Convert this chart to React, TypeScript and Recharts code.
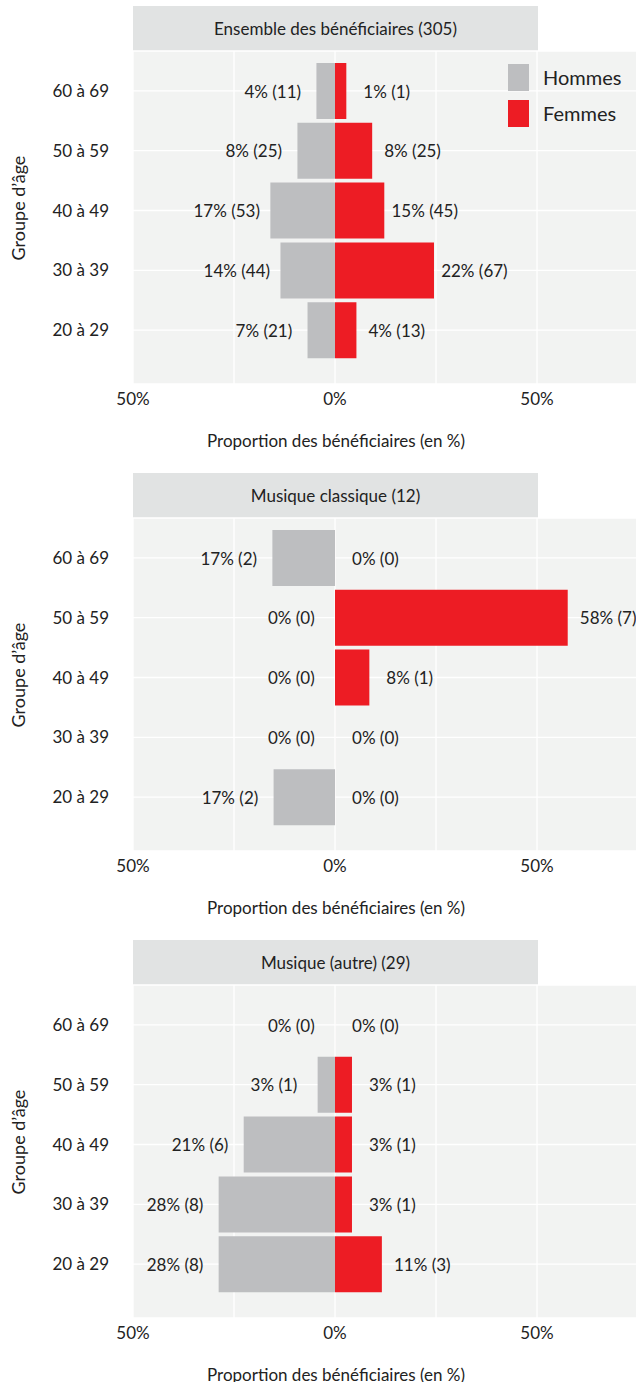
import { BarChart, Bar, XAxis, YAxis, CartesianGrid, LabelList } from 'recharts';

const ageGroups = ['60 à 69', '50 à 59', '40 à 49', '30 à 39', '20 à 29'];

// Panel 1 : ensemble
const ensembleHommes = [4.6, 9.3, 16.0, 13.5, 6.8];
const ensembleFemmes = [2.8, 9.2, 12.2, 24.5, 5.3];
const ensembleHommesPct = [4, 8, 17, 14, 7];
const ensembleHommesN = [11, 25, 53, 44, 21];
const ensembleFemmesPct = [1, 8, 15, 22, 4];
const ensembleFemmesN = [1, 25, 45, 67, 13];

// Panel 2 : musique classique
const classiqueHommes = [15.5, 0, 0, 0, 15.2];
const classiqueFemmes = [0, 57.6, 8.5, 0, 0];
const classiqueHommesPct = [17, 0, 0, 0, 17];
const classiqueHommesN = [2, 0, 0, 0, 2];
const classiqueFemmesPct = [0, 58, 8, 0, 0];
const classiqueFemmesN = [0, 7, 1, 0, 0];

// Panel 3 : musique (autre)
const autreHommes = [0, 4.3, 22.6, 28.8, 28.8];
const autreFemmes = [0, 4.2, 4.2, 4.2, 11.6];
const autreHommesPct = [0, 3, 21, 28, 28];
const autreHommesN = [0, 1, 6, 8, 8];
const autreFemmesPct = [0, 3, 3, 3, 11];
const autreFemmesN = [0, 1, 1, 1, 3];

const xTicks = [-50, 0, 50];
const gridValues = [-50, -25, 0, 25, 50, 75];

const FONT = 'Lato, "Noto Sans", sans-serif';
const TEXT = '#222222';
const GREY = '#bdbec0';
const RED = '#ed1c24';

const W = 636;
const H = 467;
const PLOT_LEFT = 133;
const X_MIN = -50;
const X_MAX = 74.5;
const PX_PER_PCT = (W - PLOT_LEFT) / (X_MAX - X_MIN);

function buildRows(h: number[], f: number[], hp: number[], hn: number[], fp: number[], fn: number[]) {
  return ageGroups.map((age, i) => ({
    age,
    hommes: -h[i],
    femmes: f[i],
    hLabel: `${hp[i]}% (${hn[i]})`,
    fLabel: `${fp[i]}% (${fn[i]})`,
  }));
}

const panels = [
  {
    title: 'Ensemble des bénéficiaires (305)',
    rows: buildRows(ensembleHommes, ensembleFemmes, ensembleHommesPct, ensembleHommesN, ensembleFemmesPct, ensembleFemmesN),
    legend: true,
  },
  {
    title: 'Musique classique (12)',
    rows: buildRows(classiqueHommes, classiqueFemmes, classiqueHommesPct, classiqueHommesN, classiqueFemmesPct, classiqueFemmesN),
    legend: false,
  },
  {
    title: 'Musique (autre) (29)',
    rows: buildRows(autreHommes, autreFemmes, autreHommesPct, autreHommesN, autreFemmesPct, autreFemmesN),
    legend: false,
  },
];

function makeLabel(side: 'left' | 'right') {
  return (props: any) => {
    const vb = props.viewBox && props.viewBox.x != null ? props.viewBox : props;
    const x = Number(vb.x);
    const w = Number(vb.width) || 0;
    const y = Number(vb.y);
    const h = Number(vb.height) || 0;
    const edge = side === 'left' ? Math.min(x, x + w) : Math.max(x, x + w);
    const cx = side === 'left' ? edge - 10.8 * PX_PER_PCT : edge + 10 * PX_PER_PCT;
    return (
      <text x={cx} y={y + h / 2} textAnchor="middle" dominantBaseline="central"
        fontFamily={FONT} fontSize={17} fill={TEXT}>
        {props.value}
      </text>
    );
  };
}

function Panel({ title, rows, legend }: { title: string; rows: any[]; legend: boolean }) {
  return (
    <div style={{ position: 'relative', width: W, height: H }}>
      <div style={{
        position: 'absolute', left: PLOT_LEFT, top: 6, width: 405, height: 45,
        background: '#e1e3e3', textAlign: 'center', lineHeight: '45px',
        fontFamily: FONT, fontSize: 17, color: TEXT,
      }}>{title}</div>
      <BarChart width={W} height={H} data={rows} layout="vertical" stackOffset="sign"
        barCategoryGap={2} margin={{ top: 51, right: 0, bottom: 53, left: 0 }}>
        <CartesianGrid stroke="#ffffff" strokeWidth={1.3} fill="#f2f3f2" fillOpacity={1}
          verticalValues={gridValues} />
        <XAxis type="number" domain={[X_MIN, X_MAX]} ticks={xTicks} allowDataOverflow
          tickFormatter={(v: number) => `${Math.abs(v)}%`} axisLine={false} tickLine={false}
          height={30} tickMargin={3} tick={{ fontFamily: FONT, fontSize: 17, fill: TEXT }} />
        <YAxis type="category" dataKey="age" width={PLOT_LEFT} axisLine={false} tickLine={false}
          interval={0} tickMargin={18} padding={{ top: 10, bottom: 24 }}
          tick={{ fontFamily: FONT, fontSize: 17, fill: TEXT }} />
        <Bar dataKey="hommes" stackId="a" fill={GREY} minPointSize={0.01} isAnimationActive={false}>
          <LabelList dataKey="hLabel" content={makeLabel('left')} />
        </Bar>
        <Bar dataKey="femmes" stackId="a" fill={RED} minPointSize={0.01} isAnimationActive={false}>
          <LabelList dataKey="fLabel" content={makeLabel('right')} />
        </Bar>
      </BarChart>
      <div style={{
        position: 'absolute', left: 17.5, top: 208, transform: 'translate(-50%, -50%) rotate(-90deg)',
        whiteSpace: 'nowrap', fontFamily: FONT, fontSize: 18, color: TEXT,
      }}>Groupe d’âge</div>
      <div style={{
        position: 'absolute', left: 336, top: 440, transform: 'translate(-50%, -50%)',
        whiteSpace: 'nowrap', fontFamily: FONT, fontSize: 17, color: TEXT,
      }}>Proportion des bénéficiaires (en %)</div>
      {legend && (
        <>
          <div style={{ position: 'absolute', left: 508, top: 64, width: 21, height: 27, background: GREY }} />
          <div style={{ position: 'absolute', left: 508, top: 100, width: 21, height: 27, background: RED }} />
          <div style={{ position: 'absolute', left: 543, top: 77, transform: 'translateY(-50%)', fontFamily: FONT, fontSize: 20, color: TEXT }}>Hommes</div>
          <div style={{ position: 'absolute', left: 543, top: 113, transform: 'translateY(-50%)', fontFamily: FONT, fontSize: 20, color: TEXT }}>Femmes</div>
        </>
      )}
    </div>
  );
}

export default function App() {
  return (
    <div style={{ position: 'absolute', left: 0, top: 0, width: W, background: '#ffffff' }}>
      {panels.map(p => (
        <Panel key={p.title} title={p.title} rows={p.rows} legend={p.legend} />
      ))}
    </div>
  );
}
